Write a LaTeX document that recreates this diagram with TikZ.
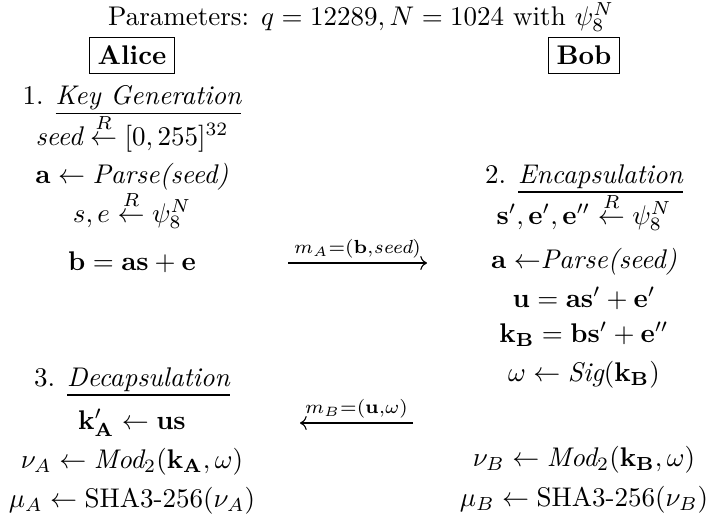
\documentclass[tikz,border=0pt]{standalone}
\usepackage{amsmath}
\usepackage{amssymb}
\usetikzlibrary{arrows.meta,positioning,calc}
\tikzset{
  party/.style={draw, inner sep=3pt, line width=0.4pt, font=\bfseries},
  row/.style={anchor=base, inner sep=0pt},
  msg/.style={->, line width=0.4pt},
  msg label/.style={inner sep=1.5pt}
}
\newcommand{\rndfrom}{\stackrel{R}{\leftarrow}}

\begin{document}
\begin{tikzpicture}[x=0.37037pt, y=-0.37037pt]
\useasboundingbox (0,0) rectangle (707,519);

% --- Header ---
\node[row] (title) at (361,25) {Parameters: $q = 12289, N = 1024$ with $\psi_8^N$};
\node[party] (alice) at (132,55.5) {Alice};
\node[party] (bob) at (584,55.5) {Bob};

% --- Alice: Key Generation ---
\node[row] (keyGen) at (132,104) {1. $\underline{\textit{Key Generation}}$};
\node[row] (seedA) at (132,145) {$\textit{seed} \rndfrom [0,255]^{32}$};
\node[row] (parseA) at (132,183) {$\mathbf{a} \leftarrow \textit{Parse(seed)}$};
\node[row] (noiseA) at (132,222) {$s, e \rndfrom \psi_8^N$};
\node[row] (pubA) at (132,270) {$\mathbf{b} = \mathbf{a}\mathbf{s} + \mathbf{e}$};

% --- Bob: Encapsulation ---
\node[row] (encap) at (584,183) {2. $\underline{\textit{Encapsulation}}$};
\node[row] (noiseB) at (584,224) {$\mathbf{s}', \mathbf{e}', \mathbf{e}'' \rndfrom \psi_8^N$};
\node[row] (parseB) at (584,268) {$\mathbf{a} \leftarrow$\textit{Parse(seed)}};
\node[row] (pubB) at (584,307) {$\mathbf{u} = \mathbf{a}\mathbf{s}' + \mathbf{e}'$};
\node[row] (keyB) at (584,342) {$\mathbf{k_B} = \mathbf{b}\mathbf{s}' + \mathbf{e}''$};
\node[row] (sigB) at (584,381) {$\omega \leftarrow \textit{Sig}(\mathbf{k_B})$};
\node[row] (modB) at (584,466) {$\nu_B \leftarrow \textit{Mod}_2(\mathbf{k_B}, \omega)$};
\node[row] (hashB) at (584,506) {$\mu_B \leftarrow \text{SHA3-256}(\nu_B)$};

% --- Alice: Decapsulation ---
\node[row] (decap) at (132,386) {3. $\underline{\textit{Decapsulation}}$};
\node[row] (keyA) at (132,429) {$\mathbf{k'_A} \leftarrow \mathbf{u}\mathbf{s}$};
\node[row] (modA) at (132,468) {$\nu_A \leftarrow \textit{Mod}_2(\mathbf{k_A}, \omega)$};
\node[row] (hashA) at (132,507) {$\mu_A \leftarrow \text{SHA3-256}(\nu_A)$};

% --- Messages ---
\coordinate (mAstart) at (288,263);
\coordinate (mAend) at (427,263);
\coordinate (mBstart) at (413,423);
\coordinate (mBend) at (300,423);
\draw[msg] (mAstart) -- node[above, msg label] {$\scriptstyle m_A=(\mathbf{b},\textit{seed})$} (mAend);
\draw[msg] (mBstart) -- node[above, msg label] {$\scriptstyle m_B=(\mathbf{u},\omega)$} (mBend);

\end{tikzpicture}
\end{document}
